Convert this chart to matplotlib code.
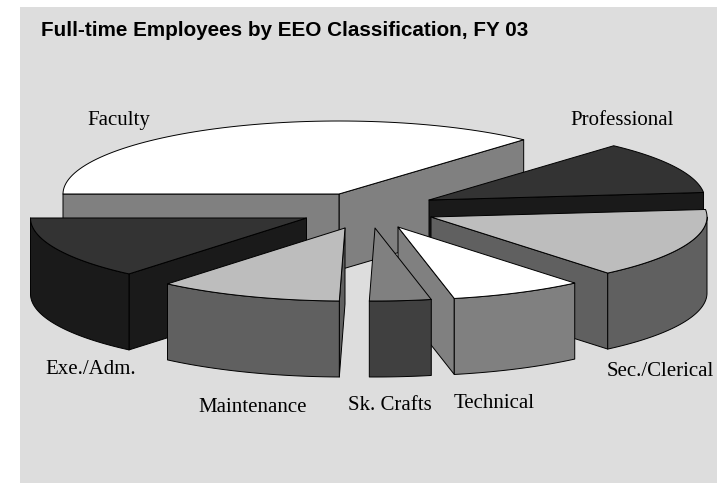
import numpy as np
import matplotlib
matplotlib.use("Agg")
import matplotlib.pyplot as plt
from matplotlib.patches import Polygon, Rectangle

title = "Full-time Employees by EEO Classification, FY 03"
categories = ["Faculty", "Exe./Adm.", "Maintenance", "Sk. Crafts", "Technical", "Sec./Clerical", "Professional"]
shares = [36.7, 13.9, 10.8, 3.6, 7.8, 15.6, 11.7]
top_colors = ["#FFFFFF", "#333333", "#BDBDBD", "#808080", "#FFFFFF", "#BDBDBD", "#333333"]
side_colors = ["#808080", "#1A1A1A", "#606060", "#404040", "#808080", "#606060", "#1A1A1A"]
apex_x = [339, 306.5, 345, 375, 398, 431, 429]
apex_y = [194, 218, 228, 228, 227, 217, 200]
label_x = [119, 91, 253, 390, 494, 660, 622]
label_y = [120.5, 369, 407, 405.5, 403, 371.5, 120.5]
draw_order = [0, 6, 5, 1, 2, 4, 3]

START = 48.0
RX, RY, DEPTH = 276.0, 73.0, 76.0
EDGE = dict(edgecolor="black", linewidth=0.7, joinstyle="round")

fig = plt.figure(figsize=(7.17, 4.83), dpi=100, facecolor="white")
ax = fig.add_axes([0, 0, 1, 1])
ax.set_xlim(0, 717)
ax.set_ylim(483, 0)
ax.axis("off")
ax.add_patch(Rectangle((20, 7), 697, 476, facecolor="#DDDDDD", edgecolor="none"))

edges = START + np.concatenate([[0], np.cumsum(shares)]) * 360.0 / sum(shares)


def rim(cx, cy, a, b, n=80):
    t = np.radians(np.linspace(a, b, n))
    return np.column_stack([cx + RX * np.cos(t), cy - RY * np.sin(t)])


def draw_slice(i):
    a, b = edges[i], edges[i + 1]
    cx, cy = apex_x[i], apex_y[i]
    apex = np.array([cx, cy])
    down = np.array([0, DEPTH])
    # cut faces that look towards the viewer
    for ang, normal in ((a, a - 90), (b, b + 90)):
        if np.sin(np.radians(normal)) < 0:
            p = rim(cx, cy, ang, ang, 1)[0]
            ax.add_patch(Polygon([apex, p, p + down, apex + down], closed=True,
                                 facecolor=side_colors[i], **EDGE))
    # outer wall on the front half of the rim
    for k in (0, 1):
        lo, hi = max(a, 180 + 360 * k), min(b, 360 + 360 * k)
        if hi > lo:
            arc = rim(cx, cy, lo, hi)
            ax.add_patch(Polygon(np.vstack([arc, (arc + down)[::-1]]), closed=True,
                                 facecolor=side_colors[i], **EDGE))
    ax.add_patch(Polygon(np.vstack([apex, rim(cx, cy, a, b)]), closed=True,
                         facecolor=top_colors[i], **EDGE))


for i in draw_order:
    draw_slice(i)

ax.text(41, 30, title, family="Liberation Sans", weight="bold", fontsize=14.9,
        color="black", ha="left", va="center")
for name, x, y in zip(categories, label_x, label_y):
    ax.text(x, y, name, family="Liberation Serif", fontsize=15, color="black",
            ha="center", va="center")

fig.savefig("out.png", dpi=100)
